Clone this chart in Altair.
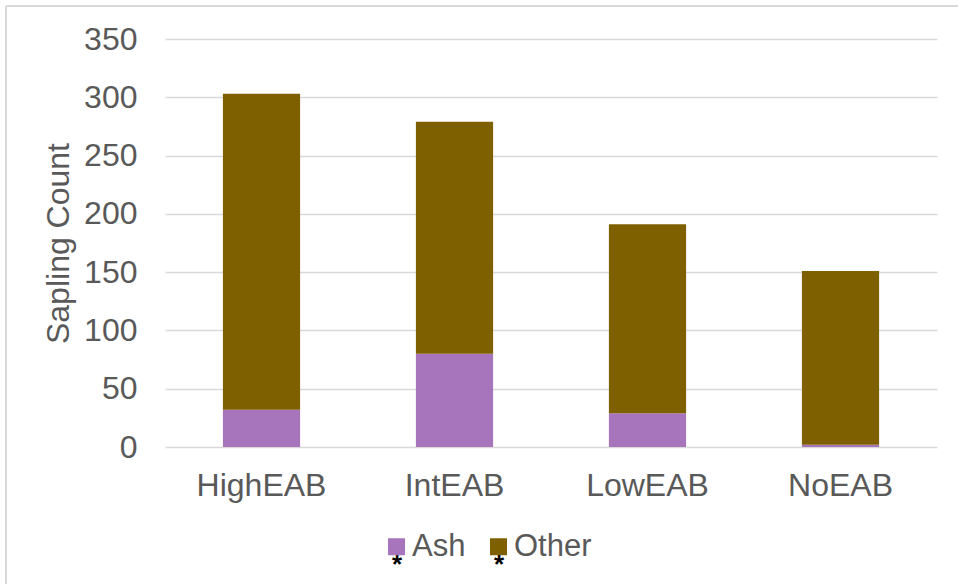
import altair as alt
import pandas as pd

# Sapling counts by EAB infestation class
sites = ["HighEAB", "IntEAB", "LowEAB", "NoEAB"]
ash = [32, 80, 29, 2]
other = [271, 199, 162, 149]
species = ["Ash", "Other"]
colors = ["#A675BC", "#7F6000"]
y_ticks = [0, 50, 100, 150, 200, 250, 300, 350]

rows = []
for s, a, o in zip(sites, ash, other):
    rows.append({"site": s, "species": "Ash", "count": a, "rank": 0})
    rows.append({"site": s, "species": "Other", "count": o, "rank": 1})
df = pd.DataFrame(rows)

FONT = "Liberation Sans"
TEXT = "#595959"
GRID = "#D9D9D9"
FS = 32

bars = alt.Chart(df).mark_bar().encode(
    x=alt.X(
        "site:N",
        sort=sites,
        scale=alt.Scale(paddingInner=0.6, paddingOuter=0.3),
        axis=alt.Axis(
            title=None, labelAngle=0, ticks=False, domain=False,
            labelPadding=23, labelFontSize=FS, labelColor=TEXT, labelFont=FONT,
        ),
    ),
    y=alt.Y(
        "count:Q",
        stack="zero",
        scale=alt.Scale(domain=[0, 350], nice=False),
        axis=alt.Axis(
            values=y_ticks, title="Sapling Count", ticks=False, domain=False,
            labelPadding=28, labelFontSize=FS, labelColor=TEXT, labelFont=FONT,
            grid=True, gridColor=GRID, gridWidth=1.6,
            titleFontSize=FS, titleFontWeight="normal", titleColor=TEXT,
            titleFont=FONT, titleX=-107, titleY=204, titleAngle=-90,
            titleAlign="center", titleBaseline="middle",
        ),
    ),
    color=alt.Color(
        "species:N",
        scale=alt.Scale(domain=species, range=colors),
        legend=alt.Legend(
            title=None, orient="none", direction="horizontal",
            legendX=216, legendY=492, padding=0,
            symbolType="square", symbolSize=289, symbolStrokeWidth=0,
            labelFontSize=31, labelColor=TEXT, labelFont=FONT,
            labelOffset=0, columnPadding=17,
        ),
    ),
    order=alt.Order("rank:Q", sort="ascending"),
)

# Asterisks set under each legend swatch
marks = pd.DataFrame({"sym": ["*", "*"], "px": [232, 334]})
stars = alt.Chart(marks).mark_text(
    fontSize=26, font=FONT, fontWeight="bold", color="#000000",
    baseline="alphabetic", align="center",
).encode(x=alt.X("px:Q", scale=None), y=alt.value(534), text="sym:N")

# Outer frame (top and left edges)
one = pd.DataFrame({"k": [0]})
frame_left = alt.Chart(one).mark_rule(color=GRID, strokeWidth=2).encode(
    x=alt.value(-159), y=alt.value(-33), y2=alt.value(560)
)
frame_top = alt.Chart(one).mark_rule(color=GRID, strokeWidth=2).encode(
    x=alt.value(-159), x2=alt.value(800), y=alt.value(-33)
)

chart = alt.layer(bars, stars, frame_left, frame_top).properties(
    width=772,
    height=408,
    background="white",
    autosize=alt.AutoSizeParams(type="none"),
    padding={"left": 165, "top": 39, "right": 21, "bottom": 137},
).configure_view(stroke=None)

chart.save("out.html", embed_options={"renderer": "svg", "actions": False})
